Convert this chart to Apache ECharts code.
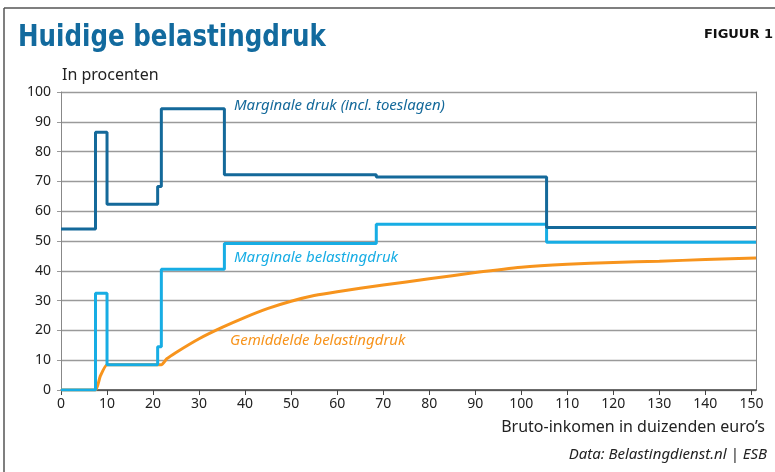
<!DOCTYPE html>
<html>
	<head>
		<meta charset="UTF-8">
		<title>Huidige belastingdruk</title>
		<style type="text/css">
			body{ margin:0; background:#fff; }
			#main{ width:775px; height:472px; }
		</style>
	</head>
	<body>
		<div id="main"></div>
		<script src="https://cdn.jsdelivr.net/npm/echarts/dist/echarts.min.js" type="text/javascript" charset="utf-8"></script>
		<script type="text/javascript">
			// inkomensgrenzen (duizenden euro) waar de tarieven wisselen
			var breaks = [0, 7.5, 10, 21, 21.8, 35.5, 68.5, 105.5, 151];
			// marginale druk incl. toeslagen, per traject
			var drukToeslagen = [54, 86.5, 62.3, 68.3, 94.4, 72.2, 71.5, 54.5];
			// marginale belastingdruk, per traject
			var drukBelasting = [0, 32.5, 8.5, 14.5, 40.5, 49.2, 55.6, 49.6];
			// gemiddelde belastingdruk
			var gemX = [0, 7.5, 8.5, 10, 21.8, 23, 25, 30, 35, 40, 45, 50, 55, 60, 70, 80, 90, 100, 110, 120, 130, 140, 151];
			var gemY = [0, 0, 4.5, 8.5, 8.5, 10.5, 12.6, 17.2, 21, 24.4, 27.4, 29.8, 31.7, 33, 35.2, 37.3, 39.4, 41.2, 42.2, 42.8, 43.2, 43.8, 44.3];

			var yTicks = [0, 10, 20, 30, 40, 50, 60, 70, 80, 90, 100];

			function steps(vals){
				var out = [];
				for (var i = 0; i < vals.length; i++) out.push([breaks[i], vals[i]]);
				out.push([breaks[breaks.length - 1], vals[vals.length - 1]]);
				return out;
			}

			var gem = gemX.map(function(x, i){ return [x, gemY[i]]; });

			var donker = '#14699a', licht = '#17ade4', oranje = '#f7941d';
			var font = '"Noto Sans", "Open Sans", sans-serif';

			var myChart = echarts.init(document.getElementById("main"));
			var option = {
				animation: false,
				grid: { left: 61, right: 19, top: 92, bottom: 82 },
				xAxis: {
					type: 'value', min: 0, max: 151, interval: 10,
					axisLine: { lineStyle: { color: '#444', width: 1.5 } },
					axisTick: { length: 5, lineStyle: { color: '#444' } },
					axisLabel: { showMaxLabel: false, color: '#222', fontSize: 14, fontFamily: font, margin: 7 },
					splitLine: { show: false }
				},
				yAxis: [{
					type: 'value', min: yTicks[0], max: yTicks[yTicks.length - 1], interval: 10,
					axisLine: { show: true, lineStyle: { color: '#888' } },
					axisTick: { show: true, length: 4, lineStyle: { color: '#999' } },
					axisLabel: { color: '#222', fontSize: 14, fontFamily: font, margin: 10 },
					splitLine: { lineStyle: { color: '#9a9a9a', width: 1.3 } }
				}, {
					type: 'value', min: 0, max: 100, position: 'right',
					axisLine: { show: true, lineStyle: { color: '#888' } },
					axisTick: { show: false }, axisLabel: { show: false }, splitLine: { show: false }
				}],
				series: [{
					name: 'Gemiddelde belastingdruk', type: 'line', data: gem, smooth: 0.15,
					symbol: 'none', lineStyle: { color: oranje, width: 3 }, z: 2
				}, {
					name: 'Marginale belastingdruk', type: 'line', data: steps(drukBelasting), step: 'end',
					symbol: 'none', lineStyle: { color: licht, width: 3 }, z: 3
				}, {
					name: 'Marginale druk (incl. toeslagen)', type: 'line', data: steps(drukToeslagen), step: 'end',
					symbol: 'none', lineStyle: { color: donker, width: 3 }, z: 4
				}],
				graphic: [
					{ type: 'line', shape: { x1: 4, y1: 8, x2: 775, y2: 8 }, style: { stroke: '#555', lineWidth: 1.5 } },
					{ type: 'line', shape: { x1: 4, y1: 8, x2: 4, y2: 472 }, style: { stroke: '#555', lineWidth: 1.5 } },
					{ type: 'text', x: 18, y: 23, scaleX: 0.91, style: { text: 'Huidige belastingdruk', fill: '#126a9e',
						font: 'bold 30px "DejaVu Sans Condensed", sans-serif' } },
					{ type: 'text', right: 2, top: 28, style: { text: 'FIGUUR 1', fill: '#111',
						font: 'bold 13px "DejaVu Sans", sans-serif' } },
					{ type: 'text', left: 62, top: 67, style: { text: 'In procenten', fill: '#222',
						font: '16px ' + font } },
					{ type: 'text', left: 234, top: 98, style: { text: 'Marginale druk (incl. toeslagen)', fill: donker,
						font: 'italic 15px ' + font } },
					{ type: 'text', left: 234, top: 250, style: { text: 'Marginale belastingdruk', fill: licht,
						font: 'italic 15px ' + font } },
					{ type: 'text', left: 230, top: 333, style: { text: 'Gemiddelde belastingdruk', fill: oranje,
						font: 'italic 15px ' + font } },
					{ type: 'text', right: 10, top: 419, style: { text: 'Bruto-inkomen in duizenden euro\u2019s', fill: '#222',
						font: '16px ' + font } },
					{ type: 'text', right: 8, top: 447, style: { text: 'Data: Belastingdienst.nl | ESB', fill: '#222',
						font: 'italic 15px ' + font } }
				]
			};
			myChart.setOption(option);
		</script>
	</body>
</html>
